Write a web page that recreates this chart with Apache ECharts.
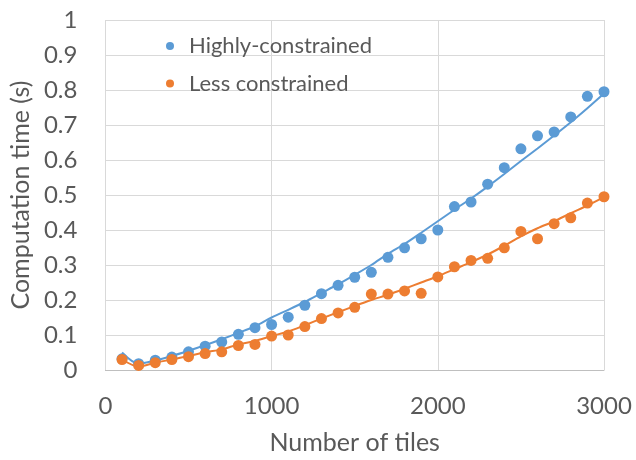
<!DOCTYPE html>
<html>
<head>
<meta charset="utf-8">
<script src="https://cdn.jsdelivr.net/npm/echarts@6/dist/echarts.min.js"></script>
<style>
  html, body { margin: 0; padding: 0; background: #fff; }
  #chart { width: 636px; height: 460px; }
</style>
</head>
<body>
<div id="chart"></div>
<script>
// number of tiles
const tiles = [100, 200, 300, 400, 500, 600, 700, 800, 900, 1000,
  1100, 1200, 1300, 1400, 1500, 1600, 1700, 1800, 1900, 2000,
  2100, 2200, 2300, 2400, 2500, 2600, 2700, 2800, 2900, 3000]

// measured points
const highly = [0.032, 0.018, 0.028, 0.037, 0.052, 0.068, 0.080, 0.102, 0.121, 0.130,
  0.151, 0.185, 0.218, 0.242, 0.265, 0.279, 0.322, 0.349, 0.375, 0.400,
  0.467, 0.480, 0.531, 0.578, 0.632, 0.669, 0.680, 0.723, 0.782, 0.795]
const less = [0.030, 0.013, 0.021, 0.030, 0.038, 0.047, 0.052, 0.070, 0.073, 0.097,
  0.100, 0.124, 0.147, 0.163, 0.179, 0.217, 0.217, 0.226, 0.219, 0.266,
  0.295, 0.313, 0.319, 0.349, 0.396, 0.375, 0.418, 0.435, 0.477, 0.495]

// trend lines
const highlyTrend = [0.050, 0.018, 0.027, 0.040, 0.055, 0.071, 0.088, 0.106, 0.125, 0.150,
  0.172, 0.195, 0.220, 0.245, 0.272, 0.300, 0.332, 0.360, 0.392, 0.425,
  0.458, 0.490, 0.524, 0.560, 0.597, 0.633, 0.670, 0.708, 0.748, 0.790]
const lessTrend = [0.030, 0.010, 0.021, 0.030, 0.040, 0.051, 0.059, 0.073, 0.083, 0.097,
  0.110, 0.128, 0.147, 0.165, 0.183, 0.200, 0.215, 0.232, 0.250, 0.268,
  0.288, 0.308, 0.330, 0.355, 0.382, 0.405, 0.425, 0.448, 0.470, 0.494]

const BLUE = '#5b9bd5'
const ORANGE = '#ed7d31'
const FONT = 'Lato'
const TEXT = '#595959'

const pairs = (xs, ys) => xs.map((x, i) => [x, ys[i]])

const chart = echarts.init(document.getElementById('chart'))

const option = {
  animation: false,
  backgroundColor: '#fff',
  textStyle: { fontFamily: FONT },
  grid: {
    left: 105,
    right: 32,
    top: 20,
    bottom: 89
  },
  legend: {
    orient: 'vertical',
    left: 161,
    top: 30,
    itemGap: 15.5,
    itemWidth: 8,
    itemHeight: 8,
    icon: 'circle',
    data: ['Highly-constrained', 'Less constrained'],
    textStyle: { color: TEXT, fontSize: 22, fontFamily: FONT, padding: [0, 0, 0, 10] }
  },
  xAxis: {
    type: 'value',
    min: 0,
    max: 3000,
    interval: 1000,
    name: 'Number of tiles',
    nameLocation: 'middle',
    nameGap: 60,
    nameTextStyle: { color: TEXT, fontSize: 25, fontFamily: FONT },
    axisLine: { show: true, lineStyle: { color: '#bfbfbf', width: 1 } },
    axisTick: { show: false },
    axisLabel: { color: TEXT, fontSize: 24, margin: 24, formatter: v => String(v) },
    splitLine: { show: true, lineStyle: { color: '#d9d9d9', width: 1 } }
  },
  yAxis: {
    type: 'value',
    min: 0,
    max: 1,
    interval: 0.1,
    name: 'Computation time (s)',
    nameLocation: 'middle',
    nameGap: 70,
    nameTextStyle: { color: TEXT, fontSize: 25, fontFamily: FONT },
    axisLine: { show: false },
    axisTick: { show: false },
    axisLabel: { color: TEXT, fontSize: 24, margin: 28 },
    splitLine: { show: true, lineStyle: { color: '#d9d9d9', width: 1 } }
  },
  series: [
    {
      name: 'Highly-constrained trend',
      type: 'line',
      data: pairs(tiles, highlyTrend),
      showSymbol: false,
      smooth: 0.3,
      lineStyle: { color: BLUE, width: 2 },
      itemStyle: { color: BLUE },
      z: 2
    },
    {
      name: 'Less constrained trend',
      type: 'line',
      data: pairs(tiles, lessTrend),
      showSymbol: false,
      smooth: 0.3,
      lineStyle: { color: ORANGE, width: 2 },
      itemStyle: { color: ORANGE },
      z: 2
    },
    {
      name: 'Highly-constrained',
      type: 'scatter',
      data: pairs(tiles, highly),
      symbolSize: 11,
      itemStyle: { color: BLUE, opacity: 1 },
      z: 3
    },
    {
      name: 'Less constrained',
      type: 'scatter',
      data: pairs(tiles, less),
      symbolSize: 11,
      itemStyle: { color: ORANGE, opacity: 1 },
      z: 4
    }
  ]
}

chart.setOption(option)
</script>
</body>
</html>
